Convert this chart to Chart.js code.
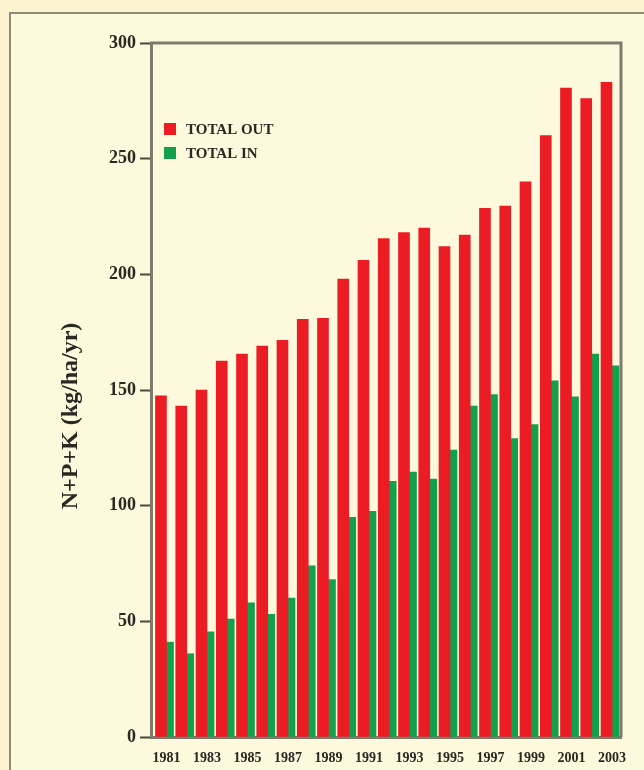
<!DOCTYPE html>
<html lang="en">
<head>
<meta charset="UTF-8">
<meta name="viewport" content="width=device-width, initial-scale=1.0">
<title>N+P+K Balance</title>
<script src="https://cdn.jsdelivr.net/npm/chart.js"></script>
<style>
    body {
        margin: 0;
        width: 644px;
        height: 770px;
        overflow: hidden;
        position: relative;
        background: #fbf4cf;
    }
    .panel {
        position: absolute;
        left: 9px;
        top: 12px;
        width: 700px;
        height: 800px;
        border: 2px solid #8e8a76;
        background: #fdf9dc;
    }
    .wrap {
        position: absolute;
        left: 0;
        top: 0;
        width: 644px;
        height: 770px;
    }
</style>
</head>
<body>
<div class="panel"></div>
<div class="wrap"><canvas id="chart" width="644" height="770"></canvas></div>

<script>
    // values
    const years = [1981, 1982, 1983, 1984, 1985, 1986, 1987, 1988, 1989, 1990, 1991, 1992,
                   1993, 1994, 1995, 1996, 1997, 1998, 1999, 2000, 2001, 2002, 2003];
    const totalOut = [147.5, 143, 150, 162.5, 165.5, 169, 171.5, 180.5, 181, 198, 206, 215.5,
                      218, 220, 212, 217, 228.5, 229.5, 240, 260, 280.5, 276, 283];
    const totalIn = [41, 36, 45.5, 51, 58, 53, 60, 74, 68, 95, 97.5, 110.5,
                     114.5, 111.5, 124, 143, 148, 129, 135, 154, 147, 165.5, 160.5];
    const seriesLabels = ['TOTAL OUT', 'TOTAL IN'];
    const yTitle = 'N+P+K (kg/ha/yr)';

    const axisColor = '#7f7b6c';
    const textColor = '#2a2823';
    const serif = '"Liberation Serif", "Times New Roman", serif';

    // top/right frame, legend inside the plot, y title
    const extrasPlugin = {
        id: 'extras',
        afterDatasetsDraw(chart) {
            const ctx = chart.ctx;
            const a = chart.chartArea;
            ctx.save();
            ctx.strokeStyle = axisColor;
            ctx.lineWidth = 3;
            ctx.beginPath();
            ctx.moveTo(a.left - 1, a.top);
            ctx.lineTo(a.right, a.top);
            ctx.lineTo(a.right, a.bottom);
            ctx.stroke();

            ctx.font = 'bold 15px ' + serif;
            ctx.textBaseline = 'middle';
            chart.data.datasets.forEach((ds, i) => {
                const y = a.top + 86 + i * 24;
                ctx.fillStyle = ds.backgroundColor;
                ctx.fillRect(a.left + 13, y - 6, 12, 12);
                ctx.fillStyle = textColor;
                ctx.fillText(ds.label, a.left + 35, y + 1);
            });

            ctx.translate(71, (a.top + a.bottom) / 2 + 26);
            ctx.rotate(-Math.PI / 2);
            ctx.font = 'bold 24px ' + serif;
            ctx.textAlign = 'center';
            ctx.fillStyle = textColor;
            ctx.fillText(yTitle, 0, 0);
            ctx.restore();
        }
    };

    const ctx = document.getElementById('chart').getContext('2d');
    new Chart(ctx, {
        type: 'bar',
        data: {
            labels: years,
            datasets: [{
                label: seriesLabels[0],
                data: totalOut,
                backgroundColor: '#ec1c24',
                barThickness: 11
            }, {
                label: seriesLabels[1],
                data: totalIn,
                backgroundColor: '#12a04c',
                barThickness: 7
            }]
        },
        options: {
            responsive: false,
            animation: false,
            devicePixelRatio: 1,
            layout: {
                padding: { top: 43, right: 23, bottom: 0, left: 0 }
            },
            plugins: {
                legend: { display: false },
                tooltip: { enabled: false }
            },
            scales: {
                x: {
                    type: 'linear',
                    offset: false,
                    min: 1980.235,
                    max: 2003.445,
                    afterFit: (s) => { s.height = 33; },
                    afterBuildTicks: (s) => {
                        s.ticks = years.filter((_, i) => i % 2 === 0).map(v => ({ value: v }));
                    },
                    grid: { display: false, drawTicks: false },
                    border: { display: true, color: axisColor, width: 3 },
                    ticks: {
                        autoSkip: false,
                        maxRotation: 0,
                        padding: 13,
                        color: textColor,
                        font: { family: serif, size: 14, weight: 'bold' },
                        callback: (v) => String(v)
                    }
                },
                y: {
                    min: 0,
                    max: 300,
                    afterFit: (s) => { s.width = 151; },
                    grid: {
                        drawOnChartArea: false,
                        drawTicks: true,
                        tickLength: 11,
                        tickWidth: 2,
                        tickColor: '#4a473d'
                    },
                    border: { display: true, color: axisColor, width: 3 },
                    ticks: {
                        stepSize: 50,
                        padding: 4,
                        color: textColor,
                        font: { family: serif, size: 18, weight: 'bold' }
                    }
                }
            }
        },
        plugins: [extrasPlugin]
    });
</script>
</body>
</html>
